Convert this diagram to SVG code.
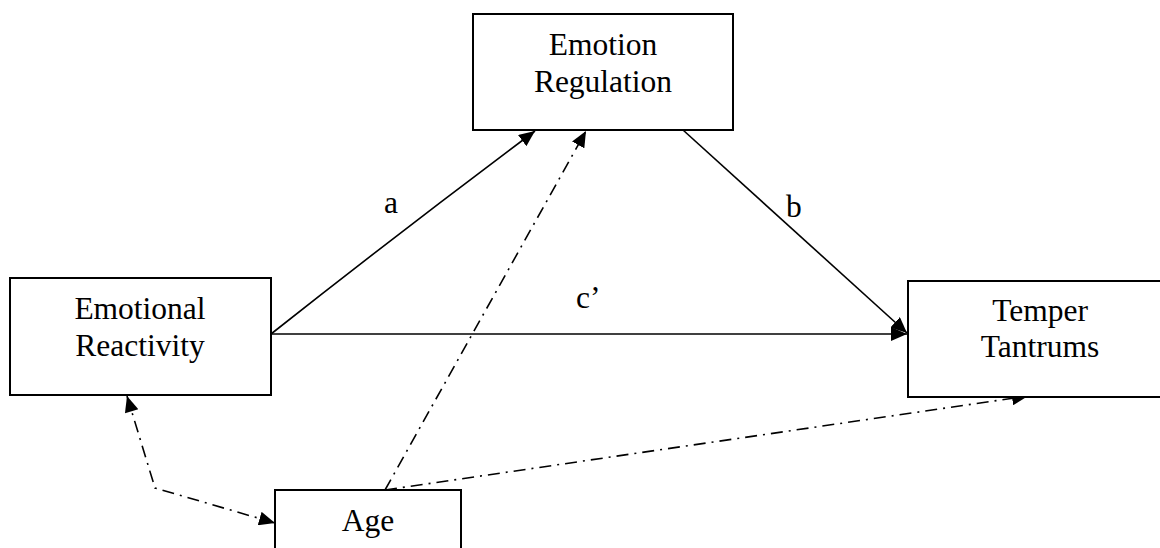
<svg xmlns="http://www.w3.org/2000/svg" width="1160" height="548" viewBox="0 0 1160 548">
<style>
.box{fill:#fff;stroke:#000;stroke-width:2}
.t{font-family:"Liberation Serif","Times New Roman",serif;font-size:31.5px;fill:#000;text-anchor:middle}
.l{font-family:"Liberation Serif","Times New Roman",serif;font-size:31.5px;fill:#000}
.solid{fill:none;stroke:#000;stroke-width:1.6}
.dd{fill:none;stroke:#000;stroke-width:1.6;stroke-dasharray:12 6 2 6}
</style>
<defs>
<marker id="ah" markerUnits="userSpaceOnUse" markerWidth="18" markerHeight="14" refX="16" refY="7" orient="auto">
<path d="M0,0 L16,7 L0,14 Z" fill="#000"/>
</marker>
<marker id="ahs" markerUnits="userSpaceOnUse" markerWidth="18" markerHeight="14" refX="0" refY="7" orient="auto">
<path d="M16,0 L0,7 L16,14 Z" fill="#000"/>
</marker>
</defs>
<g id="connectors">
<path class="solid" d="M271,334 Q400,232 535,131" marker-end="url(#ah)"/>
<line class="solid" x1="271" y1="334" x2="907" y2="334" marker-end="url(#ah)"/>
<line class="solid" x1="683" y1="130" x2="907" y2="333" marker-end="url(#ah)"/>
<line class="dd" x1="385" y1="490" x2="586" y2="131" marker-end="url(#ah)"/>
<line class="dd" x1="385" y1="490" x2="1028" y2="396" marker-end="url(#ah)"/>
<path class="dd" d="M127,396 L155,488 L275,523" marker-start="url(#ahs)" marker-end="url(#ah)"/>
</g>
<g id="node-emotion-regulation">
<rect class="box" x="473" y="14" width="260" height="116"/>
<text class="t" x="603" y="55">Emotion</text>
<text class="t" x="603" y="92">Regulation</text>
</g>
<g id="node-emotional-reactivity">
<rect class="box" x="10" y="278" width="261" height="117"/>
<text class="t" x="140" y="319">Emotional</text>
<text class="t" x="140" y="356">Reactivity</text>
</g>
<g id="node-temper-tantrums">
<rect class="box" x="908" y="281" width="262" height="116"/>
<text class="t" x="1040" y="321">Temper</text>
<text class="t" x="1040" y="357">Tantrums</text>
</g>
<g id="node-age">
<rect class="box" x="275" y="490" width="186" height="80"/>
<text class="t" x="368" y="531">Age</text>
</g>
<g id="labels">
<text class="l" x="384" y="213">a</text>
<text class="l" x="786" y="217">b</text>
<text class="l" x="576" y="308">c’</text>
</g>
</svg>
